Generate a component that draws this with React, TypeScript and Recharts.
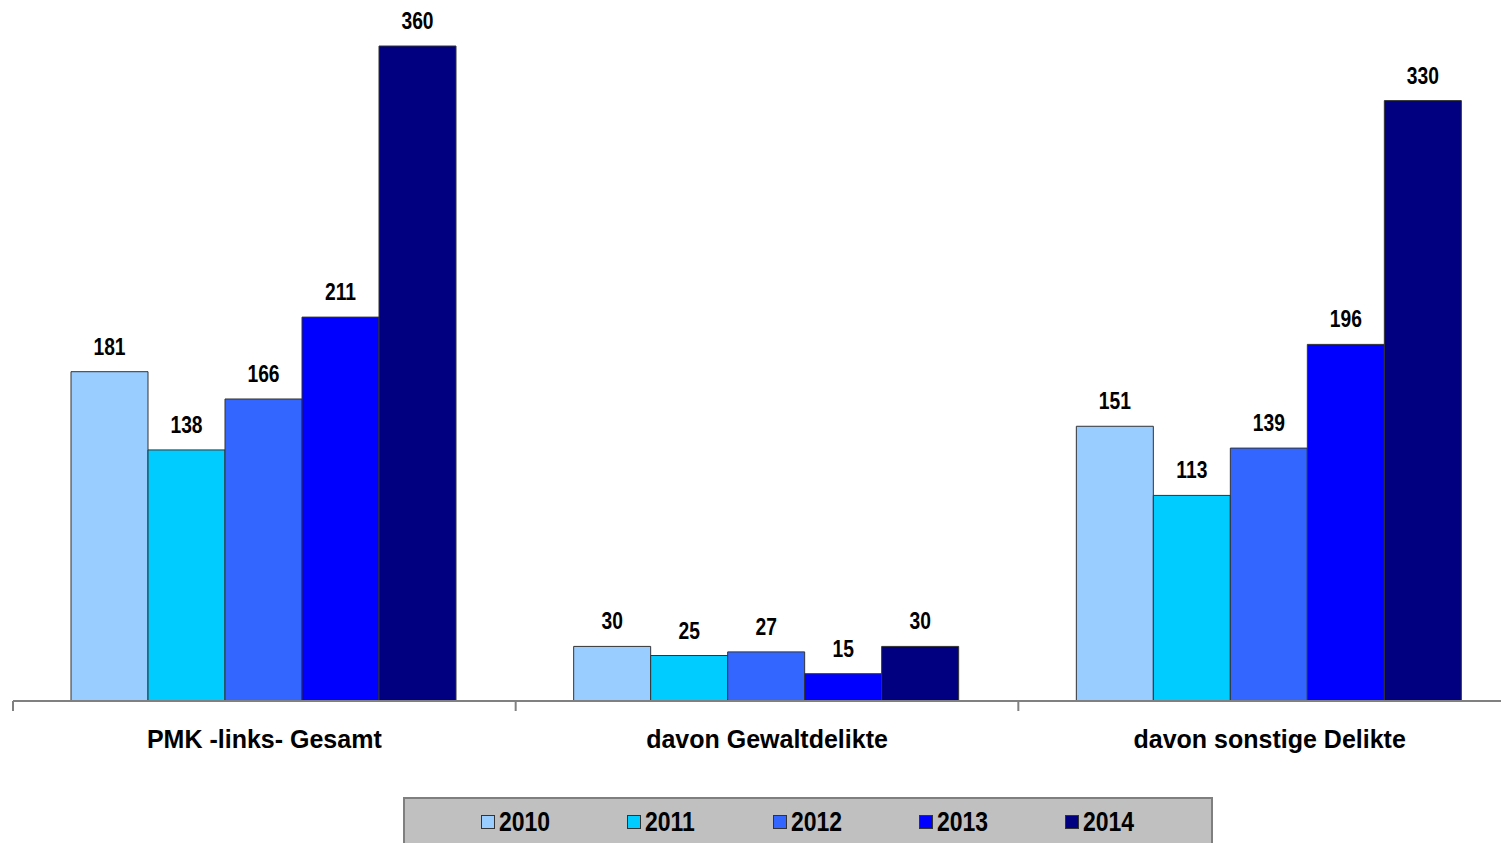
import { BarChart, Bar, XAxis, YAxis, LabelList, Legend } from "recharts";

const categories = ["PMK -links- Gesamt", "davon Gewaltdelikte", "davon sonstige Delikte"];
const years = ["2010", "2011", "2012", "2013", "2014"];
const values2010 = [181, 30, 151];
const values2011 = [138, 25, 113];
const values2012 = [166, 27, 139];
const values2013 = [211, 15, 196];
const values2014 = [360, 30, 330];

const seriesValues = [values2010, values2011, values2012, values2013, values2014];
const colors = ["#99ccff", "#00ccff", "#3366ff", "#0000ff", "#000080"];

const font = "'Liberation Sans', Arial, sans-serif";

const chartData = categories.map((name, i) => {
  const row: Record<string, string | number> = { name };
  years.forEach((y, s) => {
    row[y] = seriesValues[s][i];
  });
  return row;
});

// label centred under each group, tick marks on the group boundaries
function CategoryTick({ x, y, payload, width, visibleTicksCount, index }: any) {
  const band = width / visibleTicksCount;
  const left = x - band / 2;
  return (
    <g>
      <line x1={left} y1={y} x2={left} y2={y + 10} stroke="#808080" strokeWidth={2} />
      {index === visibleTicksCount - 1 && (
        <line x1={x + band / 2} y1={y} x2={x + band / 2} y2={y + 10} stroke="#808080" strokeWidth={2} />
      )}
      <text x={x} y={y} dy={47} textAnchor="middle" fontFamily={font} fontWeight="bold" fontSize={25} fill="#000">
        {payload.value}
      </text>
    </g>
  );
}

// narrow bold value label above the bar
function ValueLabel({ x, y, width, value }: any) {
  const cx = x + width / 2;
  return (
    <text
      transform={`translate(${cx},${y - 17}) scale(0.82,1)`}
      textAnchor="middle"
      fontFamily={font}
      fontWeight="bold"
      fontSize={23.5}
      fill="#000"
    >
      {value}
    </text>
  );
}

function LegendBox() {
  return (
    <div
      style={{
        width: 810,
        height: 56,
        background: "#c0c0c0",
        border: "2px solid #7f7f7f",
        display: "flex",
        alignItems: "flex-start",
        paddingTop: 9,
        paddingLeft: 76,
        boxSizing: "border-box",
      }}
    >
      {years.map((y, i) => (
        <div key={y} style={{ display: "flex", alignItems: "center", width: 148 }}>
          <span
            style={{
              display: "inline-block",
              width: 12,
              height: 12,
              background: colors[i],
              border: "1.5px solid #333",
              marginRight: 4,
            }}
          />
          <span
            style={{
              display: "inline-block",
              fontFamily: font,
              fontWeight: "bold",
              fontSize: 28,
              color: "#000",
              lineHeight: "28px",
              transform: "scaleX(0.82)",
              transformOrigin: "left center",
            }}
          >
            {y}
          </span>
        </div>
      ))}
    </div>
  );
}

export default function App() {
  return (
    <div style={{ position: "absolute", left: 0, top: 0, width: 1501, height: 843, overflow: "hidden", background: "#fff" }}>
      <BarChart
        width={1521}
        height={843}
        data={chartData}
        margin={{ top: 0, right: 0, left: 13, bottom: 82 }}
        barCategoryGap={58}
        barGap={0}
      >
        <XAxis
          dataKey="name"
          axisLine={{ stroke: "#808080", strokeWidth: 2 }}
          tickLine={false}
          tickSize={0}
          tickMargin={0}
          height={60}
          interval={0}
          tick={<CategoryTick />}
        />
        <YAxis hide domain={[0, 385.3]} allowDataOverflow />
        <Legend
          layout="horizontal"
          verticalAlign="middle"
          align="center"
          wrapperStyle={{ left: 403, top: 797, width: 810, height: 56, overflow: "visible" }}
          content={<LegendBox />}
        />
        {years.map((y, i) => (
          <Bar key={y} dataKey={y} fill={colors[i]} stroke="#333" strokeWidth={1} isAnimationActive={false}>
            <LabelList dataKey={y} content={<ValueLabel />} />
          </Bar>
        ))}
      </BarChart>
    </div>
  );
}
